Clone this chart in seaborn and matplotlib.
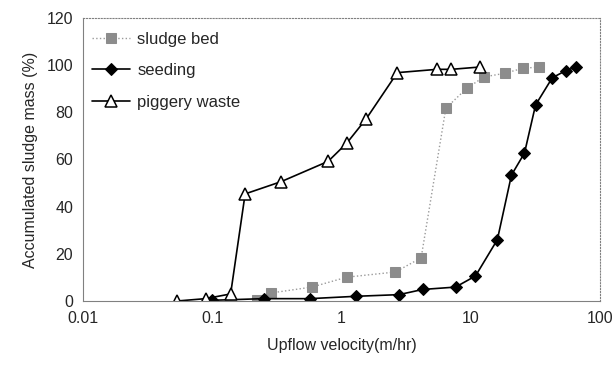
import matplotlib

matplotlib.use("Agg")
import matplotlib.pyplot as plt
import pandas as pd
import seaborn as sns

# values (x = upflow velocity m/hr, y = accumulated %)
sludge_bed_x = [0.223, 0.285, 0.59, 1.1, 2.62, 4.14, 6.43, 9.3, 12.7, 18.3, 25.2, 33.8]
sludge_bed_y = [0.6, 3.4, 5.9, 10.1, 12.3, 18.3, 81.7, 90.1, 95.0, 96.5, 98.6, 99.2]

seeding_x = [0.1, 0.25, 0.57, 1.3, 2.79, 4.26, 7.64, 10.9, 16.1, 20.7, 26.1, 31.8, 42.8, 54.6, 65.9]
seeding_y = [0.3, 1.0, 1.0, 2.0, 2.7, 4.9, 5.9, 10.6, 26.0, 53.4, 62.7, 83.1, 94.6, 97.7, 99.2]

piggery_x = [0.0535, 0.089, 0.139, 0.18, 0.342, 0.79, 1.1, 1.56, 2.71, 5.5, 7.1, 11.9]
piggery_y = [0.0, 1.0, 3.0, 45.4, 50.6, 59.2, 66.9, 77.3, 96.8, 98.2, 98.2, 99.2]

x_ticks = [0.01, 0.1, 1, 10, 100]
x_tick_labels = ["0.01", "0.1", "1", "10", "100"]
y_ticks = [0, 20, 40, 60, 80, 100, 120]

sns.set_style("white")
plt.rcParams["font.family"] = ["Liberation Sans", "DejaVu Sans"]

fig = plt.figure(figsize=(6.14, 3.73), dpi=100)
ax = fig.add_axes([0.135, 0.193, 0.842, 0.759])

series = [
    ("sludge bed", sludge_bed_x, sludge_bed_y,
     dict(color="#9a9a9a", linestyle=":", linewidth=1.0, marker="s", markersize=6.5,
          markerfacecolor="#8c8c8c", markeredgecolor="#8c8c8c")),
    ("seeding", seeding_x, seeding_y,
     dict(color="black", linestyle="-", linewidth=1.2, marker="D", markersize=6.5,
          markerfacecolor="black", markeredgecolor="black")),
    ("piggery waste", piggery_x, piggery_y,
     dict(color="black", linestyle="-", linewidth=1.2, marker="^", markersize=8.5,
          markerfacecolor="white", markeredgecolor="black", markeredgewidth=1.1)),
]

for name, xs, ys, style in series:
    df = pd.DataFrame({"x": xs, "y": ys})
    sns.lineplot(data=df, x="x", y="y", ax=ax, sort=False, label=name, **style)

ax.set_xscale("log")
ax.set_xlim(0.01, 100)
ax.set_ylim(0, 120)
ax.set_xticks(x_ticks)
ax.set_xticklabels(x_tick_labels)
ax.set_yticks(y_ticks)
ax.minorticks_off()
ax.tick_params(axis="both", length=0, labelsize=11.5, pad=7)

ax.set_xlabel("Upflow velocity(m/hr)", fontsize=11.5, labelpad=9)
ax.set_ylabel("Accumulated sludge mass (%)", fontsize=11.5, labelpad=6)

for side in ["top", "right", "left", "bottom"]:
    ax.spines[side].set_color("#808080")
    ax.spines[side].set_linewidth(0.8)
ax.spines["top"].set_linestyle(":")
ax.spines["right"].set_linestyle(":")

leg = ax.legend(loc="upper left", frameon=False, fontsize=12, handlelength=2.3,
                handletextpad=0.4, borderaxespad=0.0, labelspacing=1.0,
                bbox_to_anchor=(0.005, 0.975))

fig.savefig("out.png", dpi=100)
